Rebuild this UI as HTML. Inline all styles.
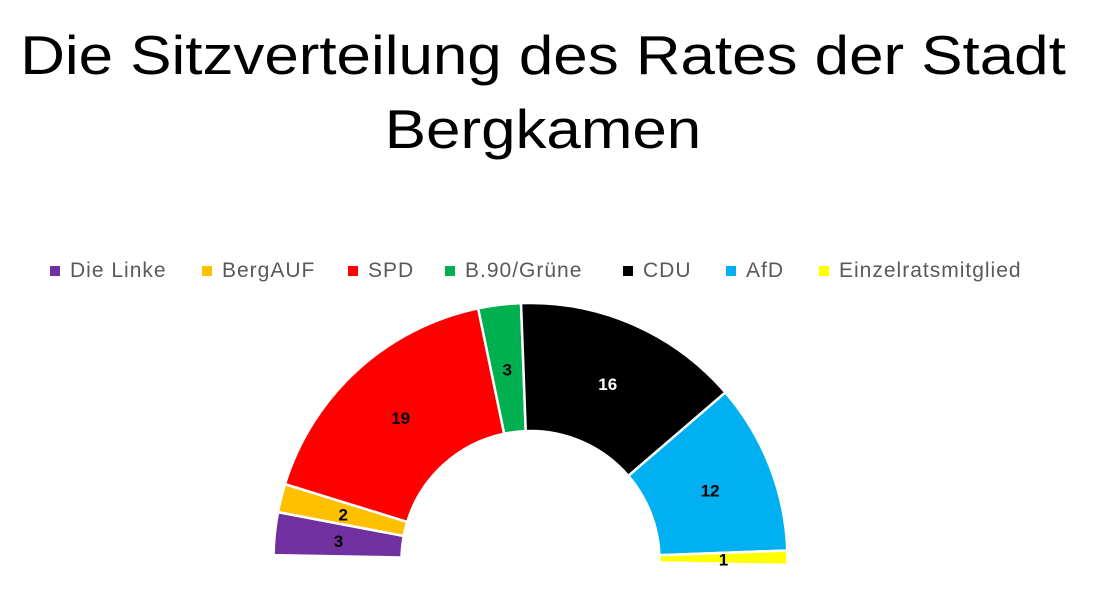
<!DOCTYPE html>
<html><head><meta charset="utf-8"><style>
body{margin:0;width:1100px;height:604px;background:#fff;overflow:hidden;font-family:"Liberation Sans",sans-serif}
.t{position:absolute;left:0;width:1086px;text-align:center;font-size:55px;color:#000;line-height:72px;transform:scaleX(1.125);transform-origin:543px 0}
.lg{position:absolute;top:259px;font-size:21px;letter-spacing:1px;color:#595959;white-space:nowrap}
.lg span{display:inline-block;width:10px;height:10px;margin-right:10px;vertical-align:1px}
</style></head><body>
<div class="t" style="top:19px">Die Sitzverteilung des Rates der Stadt</div>
<div class="t" style="top:93px">Bergkamen</div>
<div class="lg" style="left:50px"><span style="background:#7030a0"></span>Die Linke</div>
<div class="lg" style="left:202px"><span style="background:#ffc000"></span>BergAUF</div>
<div class="lg" style="left:348px"><span style="background:#ff0000"></span>SPD</div>
<div class="lg" style="left:445px"><span style="background:#00b050"></span>B.90/Grüne</div>
<div class="lg" style="left:623px"><span style="background:#000"></span>CDU</div>
<div class="lg" style="left:726px"><span style="background:#00b0f0"></span>AfD</div>
<div class="lg" style="left:819px"><span style="background:#ffff00"></span>Einzelratsmitglied</div>
<svg id="s" width="1100" height="604" style="position:absolute;left:0;top:0"></svg>
<script>
var d=[[3,"#7030a0","#000"],[2,"#ffc000","#000"],[19,"#ff0000","#000"],[3,"#00b050","#000"],[16,"#000000","#fff"],[12,"#00b0f0","#000"],[1,"#ffff00","#000"]];
var cx=530.5,cy=560,R=257,r=129,a0=181.1,step=180/56,c=0,h="";
function p(a,rr){a=a*Math.PI/180;return (cx+rr*Math.cos(a)).toFixed(2)+","+(cy+rr*Math.sin(a)).toFixed(2);}
d.forEach(function(s){var a1=a0+c*step,a2=a0+(c+s[0])*step;c+=s[0];
h+='<path d="M'+p(a1,R)+' A'+R+','+R+' 0 0 1 '+p(a2,R)+' L'+p(a2,r)+' A'+r+','+r+' 0 0 0 '+p(a1,r)+' Z" fill="'+s[1]+'" stroke="#fff" stroke-width="2.5"/>';
var m=(a1+a2)/2,q=p(m,193).split(",");
h+='<text x="'+q[0]+'" y="'+(+q[1]+7)+'" text-anchor="middle" font-family="Liberation Sans" font-weight="bold" font-size="17" fill="'+s[2]+'">'+s[0]+'</text>';});
document.getElementById("s").innerHTML=h;
</script>
</body></html>
